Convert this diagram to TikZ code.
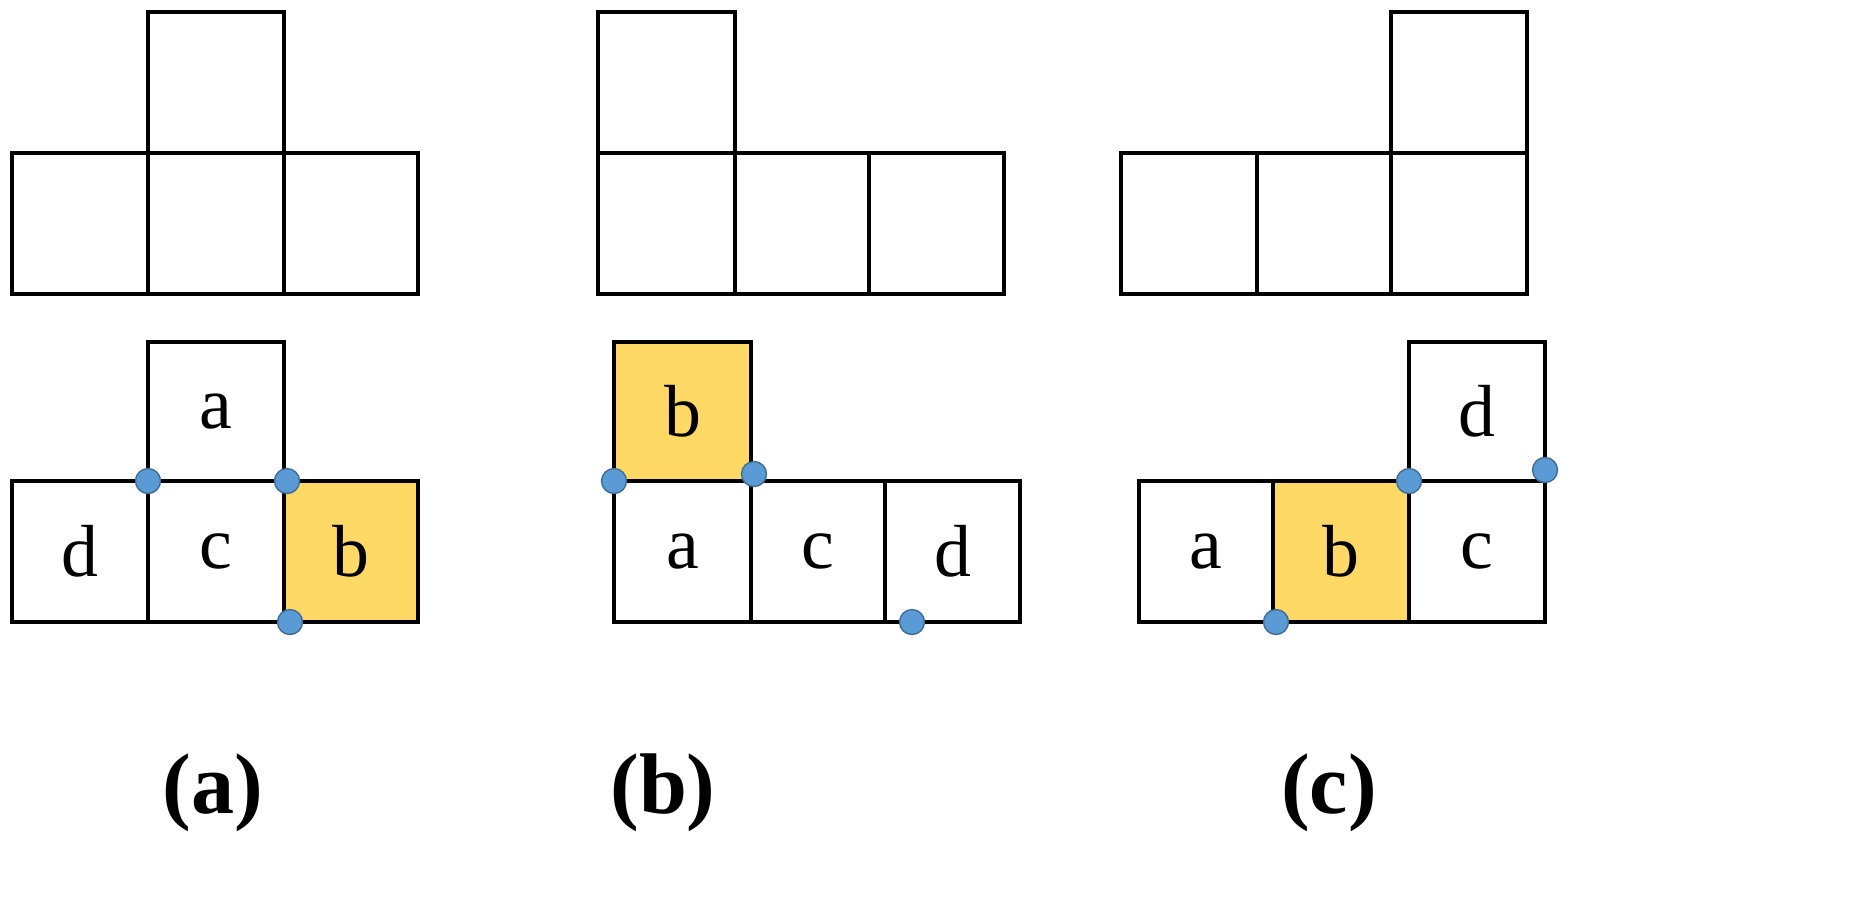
\documentclass[tikz,border=0pt]{standalone}
\usepackage{fontspec}
\setmainfont{Liberation Serif}
\begin{document}
\begin{tikzpicture}[x=0.02cm,y=-0.02cm]
\definecolor{ylw}{HTML}{FFD966}
\definecolor{dotb}{HTML}{5B9BD5}
\tikzset{cell/.style={draw=black,line width=2.3pt},
  hl/.style={cell,fill=ylw},
  dot/.style={circle,fill=dotb,draw=dotb!70!black,line width=0.8pt,minimum size=0.5cm,inner sep=0pt},
  lab/.style={font=\fontsize{42}{42}\selectfont},
  captxt/.style={font=\fontsize{49}{49}\selectfont\bfseries}}
\useasboundingbox (0,0) rectangle (1862,921);
% top (a)
\draw[cell] (148,12) rectangle (284,153);
\draw[cell] (12,153) rectangle (148,294);
\draw[cell] (148,153) rectangle (284,294);
\draw[cell] (284,153) rectangle (418,294);
% top (b)
\draw[cell] (598,12) rectangle (735,153);
\draw[cell] (598,153) rectangle (735,294);
\draw[cell] (735,153) rectangle (869,294);
\draw[cell] (869,153) rectangle (1004,294);
% top (c)
\draw[cell] (1391,12) rectangle (1527,153);
\draw[cell] (1121,153) rectangle (1257,294);
\draw[cell] (1257,153) rectangle (1391,294);
\draw[cell] (1391,153) rectangle (1527,294);
% bottom (a)
\draw[cell] (148,342) rectangle node[lab](aa){a} (284,481);
\draw[cell] (12,481) rectangle node[lab](ad){d} (148,622);
\draw[cell] (148,481) rectangle node[lab](ac){c} (284,622);
\draw[hl] (284,481) rectangle node[lab](ab){b} (418,622);
\node[dot] (a1) at (148,481) {};
\node[dot] (a2) at (287,481) {};
\node[dot] (a3) at (290,622) {};
% bottom (b)
\draw[hl] (614,342) rectangle node[lab](bb){b} (751,481);
\draw[cell] (614,481) rectangle node[lab](ba){a} (751,622);
\draw[cell] (751,481) rectangle node[lab](bc){c} (885,622);
\draw[cell] (885,481) rectangle node[lab](bd){d} (1020,622);
\node[dot] (b1) at (614,481) {};
\node[dot] (b2) at (754,474) {};
\node[dot] (b3) at (912,622) {};
% bottom (c)
\draw[cell] (1409,342) rectangle node[lab](cd){d} (1545,481);
\draw[cell] (1139,481) rectangle node[lab](ca){a} (1273,622);
\draw[hl] (1273,481) rectangle node[lab](cb){b} (1409,622);
\draw[cell] (1409,481) rectangle node[lab](cc){c} (1545,622);
\node[dot] (c1) at (1409,481) {};
\node[dot] (c2) at (1545,470) {};
\node[dot] (c3) at (1276,622) {};
% captions
\node[captxt] (ca1) at (213,793) {(a)};
\node[captxt] (cb1) at (663,793) {(b)};
\node[captxt] (cc1) at (1329,793) {(c)};
\end{tikzpicture}
\end{document}
